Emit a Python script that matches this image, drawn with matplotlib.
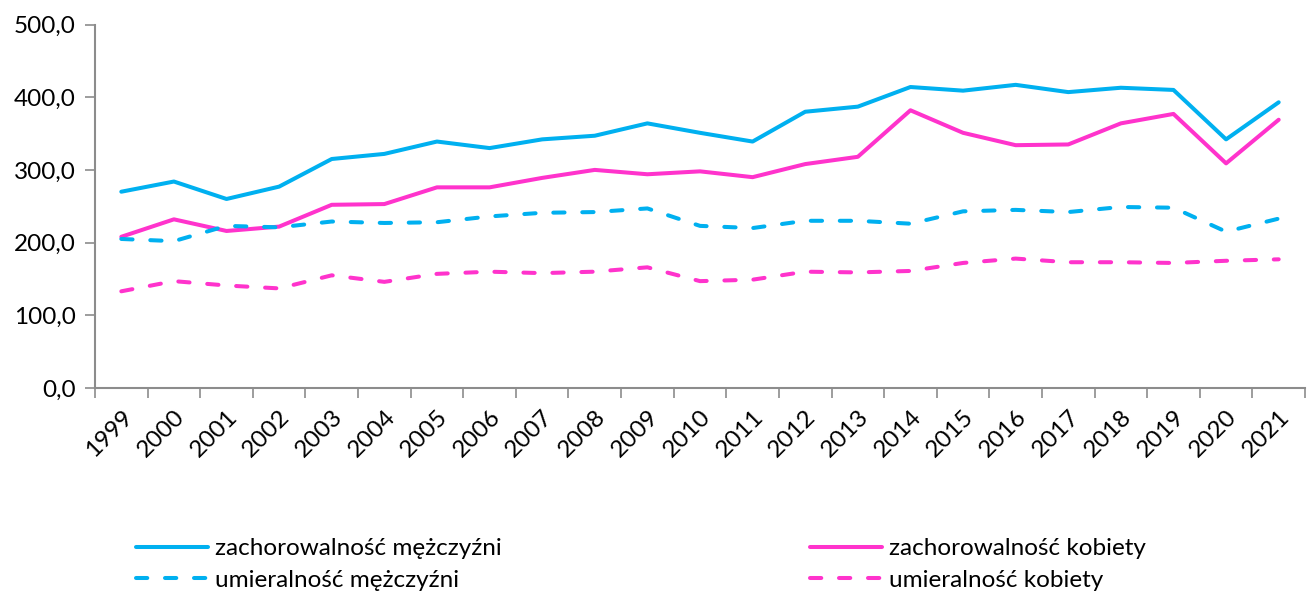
import matplotlib
matplotlib.use("Agg")
import matplotlib.pyplot as plt
import numpy as np
from matplotlib.ticker import FuncFormatter, FixedLocator

years = [str(y) for y in range(1999, 2022)]
zach_m = [270, 284, 260, 277, 315, 322, 339, 330, 342, 347, 364, 351, 339, 380, 387, 414,
          409, 417, 407, 413, 410, 342, 393]
zach_k = [208, 232, 216, 222, 252, 253, 276, 276, 289, 300, 294, 298, 290, 308, 318, 382,
          351, 334, 335, 364, 377, 309, 369]
umier_m = [205, 202, 223, 221, 229, 227, 228, 236, 241, 242, 247, 223, 220, 230, 230, 226,
           243, 245, 242, 249, 248, 215, 233]
umier_k = [133, 147, 141, 137, 155, 146, 157, 160, 158, 160, 166, 147, 149, 160, 159, 161,
           172, 178, 173, 173, 172, 175, 177]

BLUE = "#00B0F0"
PINK = "#FF33CC"
FONT = ["Lato", "DejaVu Sans"]
plt.rcParams["font.family"] = FONT

fig = plt.figure(figsize=(13.14, 5.93), dpi=100)
ax = fig.add_axes([95/1314, 1-388/593, (1305-95)/1314, (388-24.5)/593])

x = np.arange(len(years))
lw = 2.9
dash = (0, (2.8, 4.4))
l1, = ax.plot(x, zach_m, color=BLUE, lw=lw, solid_capstyle="round", label="zachorowalność mężczyźni")
l2, = ax.plot(x, zach_k, color=PINK, lw=lw, solid_capstyle="round", label="zachorowalność kobiety")
l3, = ax.plot(x, umier_m, color=BLUE, lw=lw, ls=dash, dash_capstyle="round", label="umieralność mężczyźni")
l4, = ax.plot(x, umier_k, color=PINK, lw=lw, ls=dash, dash_capstyle="round", label="umieralność kobiety")

ax.set_xlim(-0.5, len(years) - 0.5)
ax.set_ylim(0, 500)
ax.set_yticks(np.arange(0, 501, 100))
ax.yaxis.set_major_formatter(FuncFormatter(lambda v, p: f"{v:.1f}".replace(".", ",")))

ax.set_xticks(x)
ax.set_xticklabels(years, rotation=45, ha="right", va="top", rotation_mode="anchor")
ax.xaxis.set_minor_locator(FixedLocator(np.arange(-0.5, len(years), 1.0)))
ax.tick_params(axis="x", which="major", length=0, pad=13, labelsize=17.5)
ax.tick_params(axis="x", which="minor", length=7, width=1.2, color="#8C8C8C", direction="out")
ax.tick_params(axis="y", length=7, width=1.2, color="#8C8C8C", direction="out", pad=7, labelsize=17.5)

for s in ["top", "right"]:
    ax.spines[s].set_visible(False)
for s in ["left", "bottom"]:
    ax.spines[s].set_color("#8C8C8C")
    ax.spines[s].set_linewidth(1.5)

leg_kw = dict(frameon=False, fontsize=17.5, handlelength=2.95, handletextpad=0.3,
              borderpad=0, borderaxespad=0, labelspacing=0.45, loc="upper left")
lg1 = fig.legend([l1, l3], [l1.get_label(), l3.get_label()],
                 bbox_to_anchor=(136/1314, 1-538/593), **leg_kw)
lg2 = fig.legend([l2, l4], [l2.get_label(), l4.get_label()],
                 bbox_to_anchor=(810/1314, 1-538/593), **leg_kw)

fig.savefig("out.png", dpi=100)
